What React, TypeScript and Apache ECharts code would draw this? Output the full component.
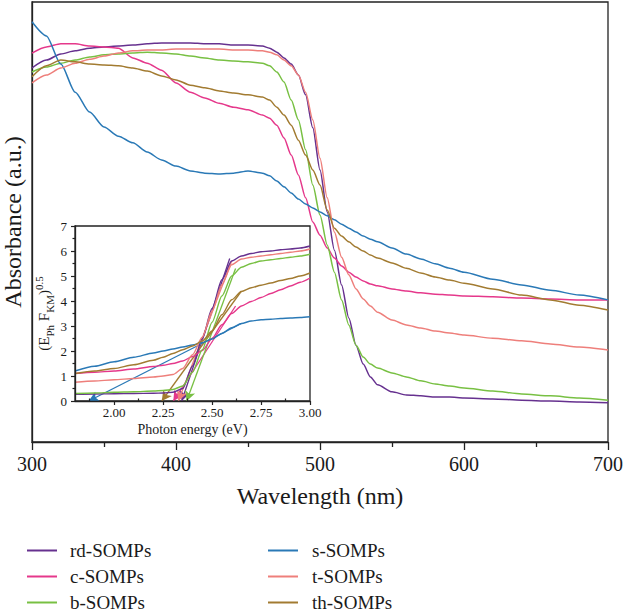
import React, { useEffect, useRef } from "react";
import * as echarts from "echarts";

// ---- Main plot: absorbance (a.u.) vs wavelength (nm) ----
const wavelengths = [300, 310, 320, 330, 340, 350, 360, 370, 380, 390, 400, 410, 420, 430, 440, 450, 460, 465, 470, 475, 480, 485, 490, 495, 500, 505, 510, 515, 520, 525, 530, 535, 540, 550, 560, 570, 580, 590, 600, 620, 640, 660, 680, 700];

const rdAbs = [0.850, 0.868, 0.882, 0.889, 0.895, 0.898, 0.900, 0.902, 0.905, 0.907, 0.907, 0.907, 0.905, 0.905, 0.902, 0.902, 0.900, 0.895, 0.886, 0.873, 0.859, 0.834, 0.789, 0.714, 0.618, 0.523, 0.436, 0.357, 0.282, 0.220, 0.177, 0.148, 0.130, 0.114, 0.107, 0.105, 0.102, 0.102, 0.100, 0.098, 0.095, 0.093, 0.091, 0.089];
const cAbs = [0.884, 0.898, 0.905, 0.905, 0.900, 0.898, 0.895, 0.873, 0.861, 0.845, 0.816, 0.795, 0.782, 0.770, 0.761, 0.755, 0.743, 0.736, 0.720, 0.691, 0.652, 0.607, 0.555, 0.500, 0.470, 0.441, 0.418, 0.400, 0.386, 0.375, 0.366, 0.359, 0.355, 0.348, 0.343, 0.339, 0.336, 0.334, 0.332, 0.330, 0.327, 0.325, 0.323, 0.323];
const bAbs = [0.841, 0.852, 0.861, 0.868, 0.875, 0.880, 0.882, 0.884, 0.886, 0.884, 0.882, 0.877, 0.873, 0.868, 0.866, 0.864, 0.861, 0.855, 0.841, 0.818, 0.777, 0.732, 0.664, 0.584, 0.516, 0.448, 0.386, 0.323, 0.266, 0.220, 0.193, 0.177, 0.168, 0.157, 0.148, 0.139, 0.132, 0.127, 0.123, 0.116, 0.109, 0.105, 0.100, 0.095];
const sAbs = [0.955, 0.923, 0.859, 0.795, 0.750, 0.716, 0.695, 0.680, 0.659, 0.641, 0.627, 0.616, 0.611, 0.609, 0.611, 0.616, 0.611, 0.605, 0.593, 0.580, 0.566, 0.552, 0.541, 0.532, 0.523, 0.514, 0.505, 0.495, 0.486, 0.477, 0.468, 0.461, 0.455, 0.441, 0.427, 0.416, 0.405, 0.395, 0.386, 0.370, 0.357, 0.345, 0.334, 0.323];
const tAbs = [0.816, 0.834, 0.850, 0.861, 0.870, 0.877, 0.884, 0.889, 0.891, 0.891, 0.893, 0.893, 0.893, 0.893, 0.891, 0.891, 0.889, 0.886, 0.880, 0.868, 0.855, 0.834, 0.795, 0.732, 0.645, 0.555, 0.477, 0.420, 0.380, 0.348, 0.325, 0.309, 0.295, 0.277, 0.266, 0.259, 0.252, 0.248, 0.243, 0.236, 0.230, 0.223, 0.216, 0.209];
const thAbs = [0.830, 0.855, 0.868, 0.864, 0.859, 0.857, 0.855, 0.850, 0.843, 0.832, 0.823, 0.811, 0.805, 0.798, 0.793, 0.789, 0.784, 0.777, 0.761, 0.743, 0.720, 0.686, 0.652, 0.618, 0.584, 0.527, 0.486, 0.468, 0.455, 0.443, 0.434, 0.425, 0.418, 0.407, 0.395, 0.384, 0.375, 0.368, 0.361, 0.348, 0.334, 0.323, 0.311, 0.300];

// ---- Inset: (E_Ph F_KM)^0.5 vs photon energy (eV) ----
const photonEnergy = [1.80, 1.90, 2.00, 2.10, 2.20, 2.25, 2.30, 2.35, 2.40, 2.45, 2.50, 2.55, 2.60, 2.65, 2.70, 2.75, 2.80, 2.85, 2.90, 2.95, 3.00];
const rdTauc = [0.27, 0.28, 0.29, 0.30, 0.31, 0.32, 0.35, 0.50, 1.40, 2.50, 3.70, 4.85, 5.60, 5.80, 5.90, 5.97, 6.00, 6.05, 6.08, 6.12, 6.20];
const cTauc = [1.10, 1.15, 1.20, 1.28, 1.38, 1.43, 1.50, 1.60, 1.78, 2.02, 2.50, 3.05, 3.50, 3.80, 3.98, 4.14, 4.30, 4.45, 4.60, 4.75, 4.92];
const bTauc = [0.30, 0.32, 0.35, 0.37, 0.40, 0.42, 0.46, 0.60, 1.15, 2.05, 3.15, 4.20, 5.00, 5.35, 5.50, 5.60, 5.65, 5.70, 5.75, 5.80, 5.87];
const sTauc = [1.20, 1.39, 1.57, 1.75, 1.92, 2.00, 2.08, 2.16, 2.24, 2.33, 2.48, 2.70, 2.93, 3.10, 3.20, 3.25, 3.27, 3.30, 3.32, 3.34, 3.37];
const tTauc = [0.75, 0.80, 0.85, 0.90, 0.96, 1.00, 1.06, 1.30, 1.85, 2.55, 3.60, 4.65, 5.45, 5.68, 5.75, 5.80, 5.85, 5.90, 5.95, 6.00, 6.08];
const thTauc = [1.10, 1.20, 1.30, 1.45, 1.63, 1.75, 1.90, 2.05, 2.20, 2.40, 2.80, 3.45, 4.05, 4.38, 4.53, 4.63, 4.72, 4.82, 4.90, 5.00, 5.12];

// Band-gap extrapolation (tangent) lines: start on the energy axis, end on the rising edge
const tangentStartX = [2.345, 2.302, 2.370, 1.870, 2.328, 2.243];
const tangentEndX = [2.59, 2.62, 2.62, 2.65, 2.60, 2.65];
const tangentEndY = [5.7, 3.8, 5.3, 3.1, 5.6, 4.4];

const seriesNames = ["rd-SOMPs", "c-SOMPs", "b-SOMPs", "s-SOMPs", "t-SOMPs", "th-SOMPs"];
const seriesColors = ["#66318f", "#e5388b", "#78c043", "#2a79b6", "#ee7f7b", "#a27b31"];

const legendLeftColumn = ["rd-SOMPs", "c-SOMPs", "b-SOMPs"];
const legendRightColumn = ["s-SOMPs", "t-SOMPs", "th-SOMPs"];

const insetXTicks = [2.0, 2.25, 2.5, 2.75, 3.0];
const insetXMinorTicks = [1.875, 2.125, 2.375, 2.625, 2.875];

export default function App() {
  const ref = useRef<HTMLDivElement>(null);

  useEffect(() => {
    const chart = echarts.init(ref.current!, null, { renderer: "svg" });
    const font = "Liberation Serif";
    const axisColor = "#222";
    const textColor = "#1a1a1a";

    const mainData = [rdAbs, cAbs, bAbs, sAbs, tAbs, thAbs];
    const insetData = [rdTauc, cTauc, bTauc, sTauc, tTauc, thTauc];

    const series: any[] = [];
    mainData.forEach((arr, i) => {
      series.push({
        type: "line",
        name: seriesNames[i],
        xAxisIndex: 0,
        yAxisIndex: 0,
        data: wavelengths.map((w, j) => [w, arr[j]]),
        symbol: "none",
        showSymbol: false,
        smooth: 0.25,
        smoothMonotone: "x",
        lineStyle: { color: seriesColors[i], width: 1.5 },
        itemStyle: { color: seriesColors[i] },
        emphasis: { disabled: true },
        z: 2,
      });
    });
    insetData.forEach((arr, i) => {
      series.push({
        type: "line",
        name: seriesNames[i],
        xAxisIndex: 1,
        yAxisIndex: 1,
        data: photonEnergy.map((e, j) => [e, arr[j]]),
        symbol: "none",
        showSymbol: false,
        smooth: 0.25,
        smoothMonotone: "x",
        lineStyle: { color: seriesColors[i], width: 1.4 },
        itemStyle: { color: seriesColors[i] },
        emphasis: { disabled: true },
        z: 8,
        markLine: {
          silent: true,
          symbol: ["arrow", "none"],
          symbolSize: [8, 10],
          label: { show: false },
          emphasis: { disabled: true },
          lineStyle: { color: seriesColors[i], width: 1.3, type: "solid" },
          data: [[{ coord: [tangentStartX[i], 0] }, { coord: [tangentEndX[i], tangentEndY[i]] }]],
        },
      });
    });

    const legendBase = {
      orient: "vertical",
      top: 540,
      height: 120,
      padding: 0,
      icon: "rect",
      itemWidth: 30,
      itemHeight: 2,
      itemGap: 5,
      selectedMode: false,
    };
    const legendText = { fontSize: 19, fontFamily: font, color: textColor, lineHeight: 21 };

    chart.setOption({
      animation: false,
      backgroundColor: "#fff",
      textStyle: { fontFamily: font },
      grid: [
        { left: 32, right: 15, top: 2, bottom: 172, outerBoundsMode: "none", show: true, borderColor: axisColor, borderWidth: 1.3, backgroundColor: "transparent", z: 0 },
        { left: 75, right: 313, top: 226, bottom: 213, outerBoundsMode: "none", show: true, borderColor: axisColor, borderWidth: 1.3, backgroundColor: "#fff", z: 5 },
      ],
      legend: [
        { ...legendBase, data: legendLeftColumn, left: 27, textStyle: { ...legendText, padding: [0, 0, 0, 8] } },
        { ...legendBase, data: legendRightColumn, left: 268, textStyle: { ...legendText, padding: [0, 0, 0, 9] } },
      ],
      xAxis: [
        {
          type: "value",
          gridIndex: 0,
          min: 300,
          max: 700,
          interval: 100,
          axisLine: { show: true, onZero: false, lineStyle: { color: axisColor, width: 1.3 } },
          axisTick: { show: true, inside: false, length: 8, lineStyle: { color: axisColor, width: 1.3 } },
          minorTick: { show: true, splitNumber: 2, length: 5, lineStyle: { color: axisColor, width: 1.3 } },
          axisLabel: { fontSize: 20, fontFamily: font, color: textColor, margin: 12 },
          splitLine: { show: false },
          name: "Wavelength (nm)",
          nameLocation: "middle",
          nameGap: 42,
          nameTextStyle: { fontSize: 24, fontFamily: font, color: textColor },
        },
        {
          type: "value",
          gridIndex: 1,
          min: 1.8,
          max: 3.0,
          axisLine: { show: true, onZero: false, lineStyle: { color: axisColor, width: 1.3 } },
          axisTick: { show: true, inside: false, length: 4, customValues: insetXTicks, lineStyle: { color: axisColor, width: 1.2 } },
          axisLabel: {
            fontSize: 13,
            fontFamily: font,
            color: textColor,
            margin: 5,
            customValues: insetXTicks,
            formatter: (v: number) => v.toFixed(2),
          },
          splitLine: { show: false },
          name: "Photon energy (eV)",
          nameLocation: "middle",
          nameGap: 21,
          nameTextStyle: { fontSize: 14, fontFamily: font, color: textColor },
          z: 9,
        },
        {
          type: "value",
          gridIndex: 1,
          min: 1.8,
          max: 3.0,
          axisLine: { show: false },
          axisTick: { show: true, inside: false, length: 2.5, customValues: insetXMinorTicks, lineStyle: { color: axisColor, width: 1.2 } },
          axisLabel: { show: false },
          splitLine: { show: false },
          z: 9,
        },
      ],
      yAxis: [
        {
          type: "value",
          gridIndex: 0,
          min: 0,
          max: 1,
          axisLine: { show: true, onZero: false, lineStyle: { color: axisColor, width: 1.3 } },
          axisTick: { show: false },
          axisLabel: { show: false },
          splitLine: { show: false },
          name: "Absorbance (a.u.)",
          nameLocation: "middle",
          nameGap: 7,
          nameTextStyle: { fontSize: 24, fontFamily: font, color: textColor },
        },
        {
          type: "value",
          gridIndex: 1,
          min: 0,
          max: 7,
          interval: 1,
          axisLine: { show: true, onZero: false, lineStyle: { color: axisColor, width: 1.3 } },
          axisTick: { show: true, inside: false, length: 4, lineStyle: { color: axisColor, width: 1.2 } },
          minorTick: { show: true, splitNumber: 2, length: 2.5, lineStyle: { color: axisColor, width: 1.2 } },
          axisLabel: { fontSize: 13, fontFamily: font, color: textColor, margin: 8 },
          splitLine: { show: false },
          name: "{t|(E}{sub|Ph}{t| F}{sub|KM}{t|)}{sup|0.5}",
          nameLocation: "middle",
          nameGap: 20,
          nameTextStyle: {
            fontFamily: font,
            color: textColor,
            rich: {
              t: { fontSize: 15, fontFamily: font, color: textColor, lineHeight: 22 },
              sub: { fontSize: 11, fontFamily: font, color: textColor, verticalAlign: "bottom", lineHeight: 22 },
              sup: { fontSize: 11, fontFamily: font, color: textColor, verticalAlign: "top", lineHeight: 22 },
            },
          },
          z: 9,
        },
      ],
      series,
    });

    return () => chart.dispose();
  }, []);

  return <div ref={ref} style={{ position: "absolute", left: 0, top: 0, width: 623, height: 614 }} />;
}
